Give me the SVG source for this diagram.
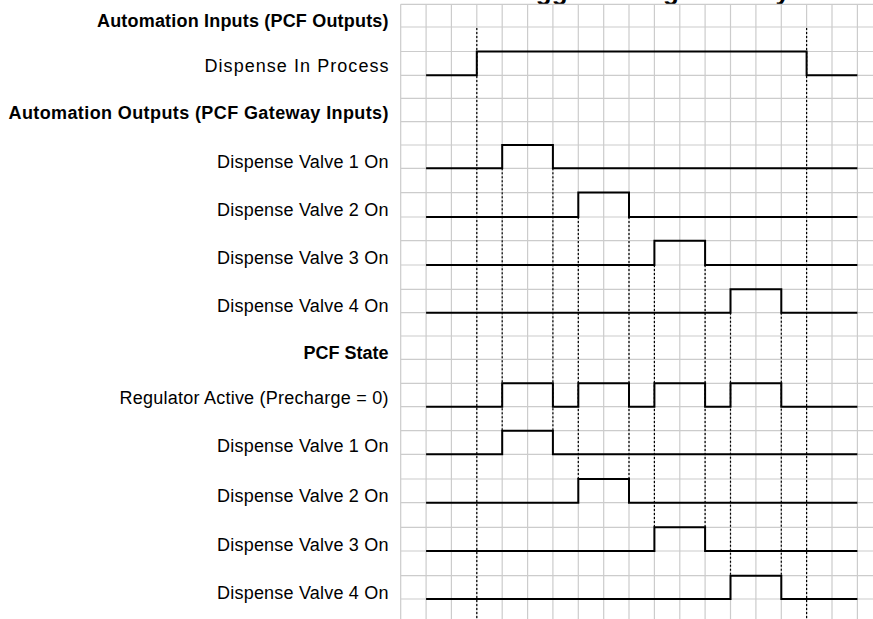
<svg xmlns="http://www.w3.org/2000/svg" width="873" height="619" viewBox="0 0 873 619">
<style>
.bg{fill:#ffffff}
.grid{stroke:#cccccc;stroke-width:1.2;fill:none}
.sig{stroke:#000000;stroke-width:2;fill:none;stroke-linejoin:miter}
.dot{stroke:#000000;stroke-width:1.2;stroke-dasharray:2 2;fill:none}
.lbl{font-family:"Liberation Sans",Arial,Helvetica,sans-serif;font-size:18px;fill:#000000;text-anchor:end}
.hdr{font-family:"Liberation Sans",Arial,Helvetica,sans-serif;font-size:18px;font-weight:bold;fill:#000000;text-anchor:end}
.title{font-family:"Liberation Sans",Arial,Helvetica,sans-serif;font-size:26px;font-weight:bold;fill:#000000}
</style>
<rect class="bg" x="0" y="0" width="873" height="619"/>
<text class="title" x="504" y="-0.5">Triggered Regulator System</text>
<g id="grid">
<path class="grid" d="M400.7 4.3V619 M426.1 4.3V619 M451.4 4.3V619 M476.8 4.3V619 M502.2 4.3V619 M527.6 4.3V619 M552.9 4.3V619 M578.3 4.3V619 M603.7 4.3V619 M629 4.3V619 M654.4 4.3V619 M679.8 4.3V619 M705.1 4.3V619 M730.5 4.3V619 M755.9 4.3V619 M781.3 4.3V619 M806.6 4.3V619 M832 4.3V619 M857.4 4.3V619"/>
<path class="grid" d="M400.7 4.3H873 M400.7 27H873 M400.7 51.5H873 M400.7 75.3H873 M400.7 98.3H873 M400.7 121.7H873 M400.7 145H873 M400.7 168.3H873 M400.7 192.6H873 M400.7 217H873 M400.7 240.7H873 M400.7 265H873 M400.7 289.3H873 M400.7 312.7H873 M400.7 336H873 M400.7 359.3H873 M400.7 383.3H873 M400.7 406.7H873 M400.7 430.7H873 M400.7 454.3H873 M400.7 479H873 M400.7 502.7H873 M400.7 527.3H873 M400.7 551H873 M400.7 575.7H873 M400.7 599H873"/>
</g>
<g id="connectors">
<path class="dot" d="M476.8 28V619 M806.6 28V619"/>
<path class="dot" d="M502.2 168.3V430.7 M552.9 168.3V430.7"/>
<path class="dot" d="M578.3 217V479 M629 217V479"/>
<path class="dot" d="M654.4 265V527.3 M705.1 265V527.3"/>
<path class="dot" d="M730.5 312.7V575.7 M781.3 312.7V575.7"/>
</g>
<g id="hdr-automation-inputs">
<text class="hdr" x="388.5" y="26.5" textLength="291.5" lengthAdjust="spacing">Automation Inputs (PCF Outputs)</text>
</g>
<g id="sig-dispense-in-process">
<text class="lbl" x="388.5" y="71.5" textLength="184" lengthAdjust="spacing">Dispense In Process</text>
<polyline class="sig" points="426.1,75.3 476.8,75.3 476.8,51.5 806.6,51.5 806.6,75.3 857.4,75.3"/>
</g>
<g id="hdr-automation-outputs">
<text class="hdr" x="388.5" y="118.5" textLength="380" lengthAdjust="spacing">Automation Outputs (PCF Gateway Inputs)</text>
</g>
<g id="sig-auto-dv1">
<text class="lbl" x="388.5" y="167.5" textLength="171.4" lengthAdjust="spacing">Dispense Valve 1 On</text>
<polyline class="sig" points="426.1,168.3 502.2,168.3 502.2,145 552.9,145 552.9,168.3 857.4,168.3"/>
</g>
<g id="sig-auto-dv2">
<text class="lbl" x="388.5" y="216" textLength="171.4" lengthAdjust="spacing">Dispense Valve 2 On</text>
<polyline class="sig" points="426.1,217 578.3,217 578.3,192.6 629,192.6 629,217 857.4,217"/>
</g>
<g id="sig-auto-dv3">
<text class="lbl" x="388.5" y="264" textLength="171.4" lengthAdjust="spacing">Dispense Valve 3 On</text>
<polyline class="sig" points="426.1,265 654.4,265 654.4,240.7 705.1,240.7 705.1,265 857.4,265"/>
</g>
<g id="sig-auto-dv4">
<text class="lbl" x="388.5" y="312" textLength="171.4" lengthAdjust="spacing">Dispense Valve 4 On</text>
<polyline class="sig" points="426.1,312.7 730.5,312.7 730.5,289.3 781.3,289.3 781.3,312.7 857.4,312.7"/>
</g>
<g id="hdr-pcf-state">
<text class="hdr" x="388.5" y="359">PCF State</text>
</g>
<g id="sig-regulator-active">
<text class="lbl" x="388.5" y="403.5" textLength="269" lengthAdjust="spacing">Regulator Active (Precharge = 0)</text>
<polyline class="sig" points="426.1,406.7 502.2,406.7 502.2,383.3 552.9,383.3 552.9,406.7 578.3,406.7 578.3,383.3 629,383.3 629,406.7 654.4,406.7 654.4,383.3 705.1,383.3 705.1,406.7 730.5,406.7 730.5,383.3 781.3,383.3 781.3,406.7 857.4,406.7"/>
</g>
<g id="sig-pcf-dv1">
<text class="lbl" x="388.5" y="452" textLength="171.4" lengthAdjust="spacing">Dispense Valve 1 On</text>
<polyline class="sig" points="426.1,454.3 502.2,454.3 502.2,430.7 552.9,430.7 552.9,454.3 857.4,454.3"/>
</g>
<g id="sig-pcf-dv2">
<text class="lbl" x="388.5" y="501.5" textLength="171.4" lengthAdjust="spacing">Dispense Valve 2 On</text>
<polyline class="sig" points="426.1,502.7 578.3,502.7 578.3,479 629,479 629,502.7 857.4,502.7"/>
</g>
<g id="sig-pcf-dv3">
<text class="lbl" x="388.5" y="550.5" textLength="171.4" lengthAdjust="spacing">Dispense Valve 3 On</text>
<polyline class="sig" points="426.1,551 654.4,551 654.4,527.3 705.1,527.3 705.1,551 857.4,551"/>
</g>
<g id="sig-pcf-dv4">
<text class="lbl" x="388.5" y="598.5" textLength="171.4" lengthAdjust="spacing">Dispense Valve 4 On</text>
<polyline class="sig" points="426.1,599 730.5,599 730.5,575.7 781.3,575.7 781.3,599 857.4,599"/>
</g>
</svg>
